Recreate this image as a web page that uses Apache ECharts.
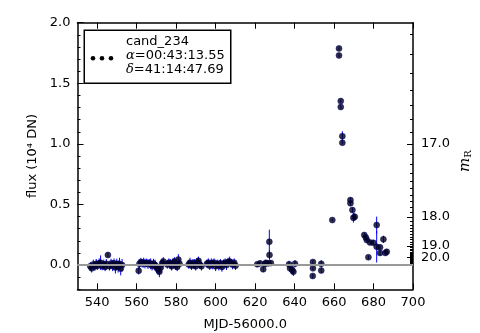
<!DOCTYPE html>
<html><head><meta charset="utf-8">
<script src="https://cdn.jsdelivr.net/npm/echarts@6/dist/echarts.min.js"></script>
<style>html,body{margin:0;padding:0;background:#fff}#c{width:480px;height:333px}</style>
</head><body><div id="c"></div>
<script>
// ---- data ----
const mjd = [
  536.5,537.2,538.0,538.8,539.5,540.2,541.0,541.7,542.5,543.3,544.0,544.6,545.4,546.2,547.0,547.8,548.5,549.2,549.9,550.6,551.3,551.9,552.6,
  561.0,561.4,562.1,562.8,563.5,564.2,565.0,565.7,566.4,567.1,567.8,568.5,569.3,570.0,570.8,571.5,572.2,572.9,573.5,
  575.5,576.3,577.0,577.7,578.4,579.1,579.8,580.5,581.1,581.7,
  586.3,587.0,587.8,588.5,589.2,589.9,590.6,591.3,592.0,592.8,
  595.6,596.3,597.0,597.8,598.5,599.2,600.0,600.8,601.6,602.4,603.2,604.0,604.8,605.5,606.3,607.1,607.8,608.6,609.4,610.1,
  621.1,622.5,624.1,625.0,625.5,626.7,627.2,627.3,628.0,
  637.2,637.7,638.8,639.4,640.2,
  649.3,649.3,649.2,653.5,653.5,
  659.1,
  662.5,662.5,663.4,663.4,664.2,664.2,
  668.3,668.3,669.3,669.8,670.5,
  675.3,676.1,676.6,677.4,678.2,679.9,681.6,681.6,683.3,683.3,685.0,686.0,686.7
];
const flux = [
  -0.010,-0.027,0.005,-0.012,0.010,-0.005,0.015,0.020,-0.008,0.005,-0.015,0.010,0.083,-0.010,0.012,-0.005,0.015,-0.020,0.008,-0.012,0.010,-0.030,0.000,
  -0.047,0.010,0.025,0.015,0.020,0.012,0.018,0.008,0.015,0.010,-0.005,0.012,0.000,-0.020,-0.035,-0.055,-0.020,0.015,0.030,
  0.005,0.020,0.010,-0.010,0.015,0.030,0.000,-0.015,0.045,0.010,
  0.005,0.020,-0.005,0.015,0.010,-0.010,0.020,0.035,0.005,-0.010,
  0.010,0.020,-0.005,0.015,0.005,0.020,-0.010,0.010,-0.005,0.015,-0.015,0.010,0.020,0.000,0.025,0.030,0.015,0.005,0.020,-0.005,
  0.006,0.014,-0.035,0.008,0.019,0.014,0.192,0.083,0.016,
  0.006,-0.027,-0.041,-0.055,0.011,
  0.025,-0.027,-0.090,0.010,-0.045,
  0.371,
  1.788,1.730,1.353,1.304,1.064,1.009,
  0.536,0.510,0.454,0.390,0.398,
  0.248,0.228,0.206,0.064,0.187,0.184,0.330,0.151,0.146,0.100,0.212,0.100,0.110
];
const fluxErr = [
  0.035,0.035,0.040,0.035,0.040,0.035,0.040,0.060,0.035,0.040,0.035,0.040,0.020,0.035,0.040,0.045,0.040,0.050,0.045,0.050,0.050,0.055,0.050,
  0.030,0.035,0.035,0.035,0.040,0.040,0.035,0.040,0.035,0.045,0.040,0.040,0.045,0.045,0.045,0.045,0.045,0.040,0.035,
  0.035,0.035,0.040,0.035,0.040,0.035,0.040,0.035,0.045,0.035,
  0.035,0.040,0.035,0.035,0.040,0.035,0.040,0.035,0.035,0.035,
  0.035,0.035,0.035,0.040,0.040,0.035,0.040,0.035,0.040,0.035,0.040,0.035,0.035,0.040,0.035,0.040,0.035,0.040,0.035,0.035,
  0.020,0.020,0.020,0.020,0.020,0.020,0.100,0.040,0.020,
  0.030,0.030,0.035,0.035,0.030,
  0.015,0.015,0.015,0.030,0.020,
  0.010,
  0.015,0.015,0.015,0.015,0.040,0.015,
  0.020,0.020,0.020,0.040,0.030,
  0.020,0.020,0.020,0.015,0.020,0.020,0.070,0.130,0.020,0.020,0.030,0.020,0.020
];
const xTicks = [540,560,580,600,620,640,660,680,700];
const yTicks = [0.0,0.5,1.0,1.5,2.0];
const yMinor = [-0.2,-0.1,0.0,0.1,0.2,0.3,0.4,0.5,0.6,0.7,0.8,0.9,1.0,1.1,1.2,1.3,1.4,1.5,1.6,1.7,1.8,1.9,2.0];
const magLabelsA = [17.0,18.0,19.0];
const magLabelsB = [20.0];
const magMinor = [];
for (let k = 163; k <= 225; k++) magMinor.push(k / 10);
const magZero = 17.0; // flux 1.0 (10^4 DN) <-> m_R 17.0
const zeroLevel = 0.0;
const xMin = 530, xMax = 700, yMin = -0.2, yMax = 2.0;

const magToFlux = m => Math.pow(10, -0.4 * (m - magZero));
const fluxToMag = f => magZero - 2.5 * Math.log10(f);

const pts = mjd.map((x, i) => [x, flux[i], fluxErr[i]]);

const FONT = 'DejaVu Sans';
const chart = echarts.init(document.getElementById('c'), null, {renderer: 'canvas'});
const baseY = {type: 'value', min: yMin, max: yMax, splitLine: {show: false}};
const magLabelStyle = {show: true, margin: 8, hideOverlap: false, fontFamily: FONT, fontSize: 13, color: '#000',
                       formatter: v => fluxToMag(v).toFixed(1)};
chart.setOption({
  animation: false,
  backgroundColor: '#fff',
  grid: {left: 77.5, right: 67, top: 22.7, bottom: 43.7, containLabel: false, outerBoundsMode: 'none'},
  xAxis: [
    {type: 'value', min: xMin, max: xMax, position: 'bottom',
     axisLine: {show: true, onZero: false, lineStyle: {color: '#000', width: 1.5}},
     axisTick: {show: true, inside: true, length: 6, customValues: xTicks, lineStyle: {color: '#000', width: 1}},
     axisLabel: {show: true, customValues: xTicks, margin: 7, hideOverlap: false, fontFamily: FONT, fontSize: 13, color: '#000'},
     splitLine: {show: false},
     name: 'MJD-56000.0', nameLocation: 'middle', nameGap: 29,
     nameTextStyle: {fontFamily: FONT, fontSize: 13, color: '#000'}},
    {type: 'value', min: xMin, max: xMax, position: 'top',
     axisLine: {show: true, onZero: false, lineStyle: {color: '#000', width: 1.5}},
     axisTick: {show: true, inside: true, length: 6, customValues: xTicks, lineStyle: {color: '#000', width: 1}},
     axisLabel: {show: false}, splitLine: {show: false}}
  ],
  yAxis: [
    Object.assign({}, baseY, {position: 'left',
     axisLine: {show: true, onZero: false, lineStyle: {color: '#000', width: 1.5}},
     axisTick: {show: true, inside: true, length: 6, customValues: yTicks, lineStyle: {color: '#000', width: 1}},
     axisLabel: {show: true, customValues: yTicks, margin: 7, hideOverlap: false, fontFamily: FONT, fontSize: 13, color: '#000',
                 formatter: v => v.toFixed(1)},
     name: 'flux (10⁴ DN)', nameLocation: 'middle', nameGap: 35, nameRotate: 90,
     nameTextStyle: {fontFamily: FONT, fontSize: 13, color: '#000'}}),
    Object.assign({}, baseY, {position: 'left',
     axisLine: {show: false, onZero: false},
     axisTick: {show: true, inside: true, length: 3, customValues: yMinor, lineStyle: {color: '#000', width: 1}},
     axisLabel: {show: false}}),
    Object.assign({}, baseY, {position: 'right',
     axisLine: {show: true, onZero: false, lineStyle: {color: '#000', width: 1.5}},
     axisTick: {show: true, inside: true, length: 6, customValues: magLabelsA.concat(magLabelsB).map(magToFlux), lineStyle: {color: '#000', width: 1}},
     axisLabel: Object.assign({customValues: magLabelsA.map(magToFlux)}, magLabelStyle)}),
    Object.assign({}, baseY, {position: 'right',
     axisLine: {show: false, onZero: false},
     axisTick: {show: true, inside: true, length: 3, customValues: magMinor.map(magToFlux), lineStyle: {color: '#000', width: 1}},
     axisLabel: Object.assign({customValues: magLabelsB.map(magToFlux)}, magLabelStyle)})
  ],
  series: [
    {type: 'line', xAxisIndex: 0, yAxisIndex: 0,
     data: [[xMin, zeroLevel], [xMax, zeroLevel]], symbol: 'none',
     lineStyle: {color: '#999999', width: 2}},
    {type: 'custom', xAxisIndex: 0, yAxisIndex: 0, data: pts, z: 2,
     encode: {x: 0, y: 1},
     renderItem: (params, api) => {
       const x = api.value(0), y = api.value(1), e = api.value(2);
       const a = api.coord([x, y - e]), b = api.coord([x, y + e]);
       return {type: 'line', shape: {x1: a[0], y1: a[1], x2: b[0], y2: b[1]},
               style: {stroke: '#0000ff', lineWidth: 1}};
     }},
    {type: 'scatter', xAxisIndex: 0, yAxisIndex: 0, data: pts, z: 3,
     symbol: 'circle', symbolSize: 6,
     itemStyle: {color: '#000018', borderColor: '#00006a', borderWidth: 0.6}}
  ],
  graphic: [
    {type: 'rect', left: 83.5, top: 29.5, z: 10,
     shape: {width: 146.5, height: 53},
     style: {fill: '#fff', stroke: '#000', lineWidth: 1.5}},
    {type: 'circle', z: 11, shape: {cx: 93, cy: 58.3, r: 2.3}, style: {fill: '#000'}},
    {type: 'circle', z: 11, shape: {cx: 102, cy: 58.3, r: 2.3}, style: {fill: '#000'}},
    {type: 'circle', z: 11, shape: {cx: 111, cy: 58.3, r: 2.3}, style: {fill: '#000'}},
    {type: 'text', z: 11, x: 126, y: 34.5,
     style: {
       text: 'cand_234\n{g|α}=00:43:13.55\n{g|δ}=41:14:47.69',
       fontFamily: FONT, fontSize: 13, lineHeight: 14, fill: '#000',
       rich: {g: {fontFamily: 'DejaVu Serif', fontStyle: 'italic', fontSize: 13, lineHeight: 14, fill: '#000'}}
     }},
    {type: 'text', z: 11, x: 465, y: 172, rotation: Math.PI / 2,
     style: {
       text: '{m|m}{s|R}', fill: '#000', verticalAlign: 'middle',
       rich: {m: {fontFamily: 'DejaVu Serif', fontStyle: 'italic', fontSize: 15, fill: '#000'},
              s: {fontFamily: 'DejaVu Serif', fontSize: 10, fill: '#000', padding: [6, 0, 0, 0]}}
     }}
  ]
});
// zero reference line, positioned through the chart's own scale (backup overlay)
const z0 = chart.convertToPixel({xAxisIndex: 0, yAxisIndex: 0}, [xMin, zeroLevel]);
const z1 = chart.convertToPixel({xAxisIndex: 0, yAxisIndex: 0}, [xMax, zeroLevel]);
chart.setOption({graphic: [{id: 'zeroLine', type: 'line', z: 4,
  shape: {x1: z0[0], y1: z0[1], x2: z1[0], y2: z1[1]},
  style: {stroke: '#999999', lineWidth: 2}}]});
</script>
</body></html>
